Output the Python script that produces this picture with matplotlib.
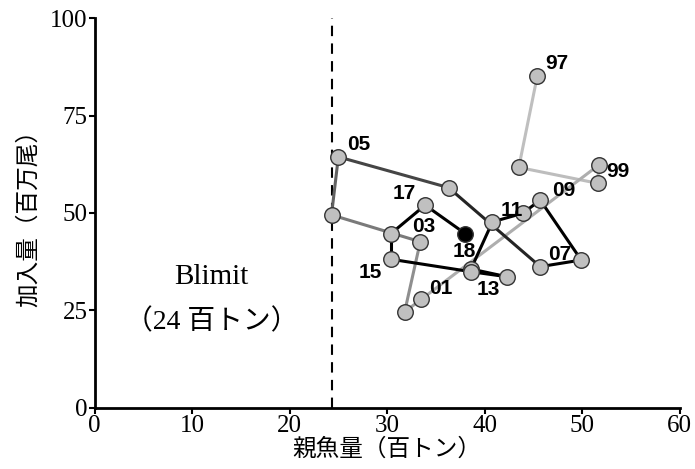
import numpy as np
import matplotlib
matplotlib.use("Agg")
import matplotlib.pyplot as plt

# spawning stock biomass (100 t) and recruitment (million fish), 1997-2018
years = ["97", "98", "99", "00", "01", "02", "03", "04", "05", "06", "07",
         "08", "09", "10", "11", "12", "13", "14", "15", "16", "17", "18"]
ssb = [45.4, 43.5, 51.6, 51.7, 33.5, 31.8, 33.4, 24.3, 25.0, 36.3, 45.7,
       49.9, 45.7, 43.9, 40.8, 38.6, 42.3, 38.6, 30.4, 30.4, 33.9, 38.0]
recruit = [85.2, 61.7, 57.6, 62.3, 27.8, 24.6, 42.6, 49.5, 64.4, 56.5, 36.2,
           37.9, 53.3, 49.9, 47.7, 35.6, 33.6, 34.9, 38.1, 44.7, 52.0, 44.7]
blimit = 24.3

# year labels and their offsets (pixels) from the point
label_years = ["97", "99", "01", "03", "05", "07", "09", "11", "13", "15", "17", "18"]
label_off = {"97": (19, 12), "99": (20, 12), "01": (20, 11), "03": (3, 15),
             "05": (20, 12), "07": (19, 12), "09": (24, 10), "11": (19, 11),
             "13": (-19, -13), "15": (-21, -13), "17": (-21, 12), "18": (-1, -18)}

serif = ["Liberation Serif", "Noto Sans CJK JP"]
cjk = ["Noto Sans CJK JP", "DejaVu Sans"]

fig = plt.figure(figsize=(6.95, 4.69), dpi=100)
ax = fig.add_axes([0.136, 0.131, 0.842, 0.830])

# segments fade from light grey (oldest) to black
n = len(years)
for i in range(n - 1):
    g = max(0.0, 0.75 * (1 - (i / 10) ** 2))
    ax.plot(ssb[i:i + 2], recruit[i:i + 2], color=str(g), lw=2.2,
            solid_capstyle="round", zorder=2)

face = ["#c0c0c0"] * (n - 1) + ["black"]
for i in range(n):
    ax.scatter(ssb[i], recruit[i], s=125, c=face[i], edgecolors="#333333",
               linewidths=1.0, zorder=3 + i)

for y in label_years:
    i = years.index(y)
    ax.annotate(y, (ssb[i], recruit[i]), xytext=label_off[y],
                textcoords="offset pixels", ha="center", va="center",
                fontsize=15, fontweight="bold", family="Liberation Sans",
                zorder=40)

ax.axvline(blimit, color="black", lw=1.5, ls=(0, (5, 3.5)), zorder=1)
ax.text(12.0, 33.5, "Blimit", ha="center", va="center", fontsize=21,
        family=serif)
ax.text(12.0, 22, "（24 百トン）", ha="center", va="center", fontsize=20,
        family=serif)

ax.set_xlim(0, 60)
ax.set_ylim(0, 100)
ax.set_xticks(np.arange(0, 61, 10))
ax.set_yticks([0, 25, 50, 75, 100])
for s in ["top", "right"]:
    ax.spines[s].set_visible(False)
for s in ["left", "bottom"]:
    ax.spines[s].set_linewidth(2)
ax.tick_params(direction="out", length=4, width=1.5, labelsize=18, pad=1)
for lab in ax.get_xticklabels() + ax.get_yticklabels():
    lab.set_family("Liberation Serif")

ax.set_xlabel("親魚量（百トン）", fontsize=17, family=cjk, labelpad=1)
ax.set_ylabel("加入量（百万尾）", fontsize=17, family=cjk, labelpad=7)

fig.savefig("out.png", dpi=100)
